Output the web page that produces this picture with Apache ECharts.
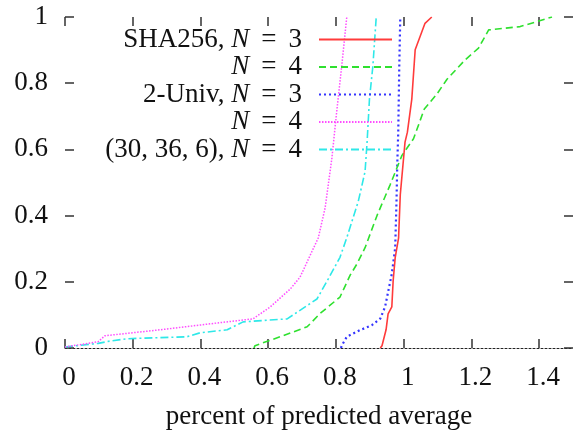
<!DOCTYPE html>
<html>
<head>
<meta charset="utf-8">
<script src="https://cdn.jsdelivr.net/npm/echarts@6/dist/echarts.min.js"></script>
<style>
  html, body { margin: 0; padding: 0; background: #fff; }
  #chart { width: 585px; height: 435px; }
</style>
</head>
<body>
<div id="chart"></div>
<script>
// [x, fraction] points
const sha256N3 = [[0.931, 0], [0.936, 0.007], [0.948, 0.055], [0.954, 0.103], [0.965, 0.124], [0.969, 0.204], [0.975, 0.273], [0.985, 0.333], [0.990, 0.463], [1.004, 0.622], [1.011, 0.652], [1.024, 0.752], [1.034, 0.901], [1.063, 0.981], [1.083, 1.0]];
const sha256N4 = [[0.558, 0], [0.561, 0.007], [0.635, 0.034], [0.715, 0.064], [0.753, 0.104], [0.812, 0.154], [0.842, 0.22], [0.862, 0.254], [0.886, 0.303], [0.922, 0.402], [0.960, 0.493], [0.995, 0.582], [1.029, 0.632], [1.061, 0.722], [1.098, 0.767], [1.128, 0.812], [1.182, 0.871], [1.221, 0.906], [1.251, 0.961], [1.344, 0.971], [1.393, 0.986], [1.438, 1.0]];
const univN3 = [[0.815, 0], [0.817, 0.007], [0.832, 0.034], [0.871, 0.054], [0.906, 0.069], [0.931, 0.089], [0.945, 0.124], [0.955, 0.174], [0.965, 0.224], [0.975, 0.303], [0.979, 0.45], [0.981, 0.552], [0.984, 0.653], [0.987, 0.851], [0.990, 1.0]];
const univN4 = [[0, 0.003], [0.098, 0.019], [0.118, 0.037], [0.281, 0.055], [0.428, 0.073], [0.555, 0.088], [0.606, 0.124], [0.665, 0.178], [0.694, 0.214], [0.748, 0.333], [0.768, 0.423], [0.788, 0.573], [0.801, 0.702], [0.817, 0.851], [0.832, 1.0]];
const code30N4 = [[0, 0.003], [0.098, 0.014], [0.133, 0.021], [0.183, 0.028], [0.360, 0.034], [0.399, 0.046], [0.479, 0.055], [0.526, 0.079], [0.656, 0.088], [0.744, 0.148], [0.777, 0.208], [0.812, 0.274], [0.832, 0.333], [0.866, 0.443], [0.886, 0.533], [0.892, 0.622], [0.899, 0.752], [0.909, 0.851], [0.919, 1.0]];

const xTicks = [0, 0.2, 0.4, 0.6, 0.8, 1, 1.2, 1.4];
const yTicks = [0, 0.2, 0.4, 0.6, 0.8, 1];
const seriesNames = ["SHA256 N3", "SHA256 N4", "2-Univ N3", "2-Univ N4", "(30,36,6) N4"];
const legendLabels = [
  "{t|SHA256, }{i|N}{e|=}{t|3}",
  "{i|N}{e|=}{t|4}",
  "{t|2-Univ, }{i|N}{e|=}{t|3}",
  "{i|N}{e|=}{t|4}",
  "{t|(30, 36, 6), }{i|N}{e|=}{t|4}"
];

const font = "'Liberation Serif', 'DejaVu Serif', serif";
const ink = "#111";

// an axis that only draws short ticks pointing into the plot
function tickAxis(position, min, max, ticks, extra) {
  return Object.assign({
    type: "value",
    position: position,
    min: min,
    max: max,
    axisLine: { show: false, onZero: false },
    axisTick: { show: true, inside: true, length: 9, customValues: ticks, lineStyle: { color: "#333", width: 1.5 } },
    axisLabel: { show: false },
    splitLine: { show: false },
  }, extra);
}

let myChart = echarts.init(document.getElementById("chart"), null, { renderer: "canvas" });

let option = {
  animation: false,
  backgroundColor: "#fff",
  grid: { left: 65, right: 12, top: 17, bottom: 84 },
  legend: {
    orient: "vertical",
    align: "right",
    right: 192,
    top: 26,
    padding: 0,
    itemGap: 0.5,
    itemWidth: 73,
    itemHeight: 14,
    itemStyle: { opacity: 0 },
    data: seriesNames,
    formatter: function (name) {
      return legendLabels[seriesNames.indexOf(name)];
    },
    textStyle: {
      padding: [0, 12, 0, 0],
      rich: {
        t: { fontFamily: font, fontSize: 27, color: ink, lineHeight: 26 },
        i: { fontFamily: font, fontSize: 27, fontStyle: "italic", color: ink, lineHeight: 26 },
        e: { fontFamily: font, fontSize: 27, color: ink, lineHeight: 26, padding: [0, 12, 0, 12] },
      },
    },
  },
  xAxis: [
    tickAxis("bottom", 0, 1.5, xTicks, {
      name: "percent of predicted average",
      nameLocation: "middle",
      nameGap: 55,
      nameTextStyle: { fontFamily: font, fontSize: 27, color: ink },
      axisLine: { show: true, onZero: false, lineStyle: { color: "#222", width: 1, type: [2, 2] } },
      axisLabel: { show: true, customValues: xTicks, margin: 16, padding: [0, 0, 0, 8], fontFamily: font, fontSize: 27, color: ink },
    }),
    tickAxis("top", 0, 1.5, xTicks),
  ],
  yAxis: [
    tickAxis("left", 0, 1, yTicks, {
      interval: 0.2,
      axisLabel: { show: true, customValues: yTicks, margin: 17, padding: [0, 0, 5, 0], fontFamily: font, fontSize: 27, color: ink },
    }),
    tickAxis("right", 0, 1, yTicks, { interval: 0.2 }),
  ],
  series: [
    {
      name: seriesNames[0],
      type: "line",
      symbol: "none",
      data: sha256N3,
      lineStyle: { color: "#ff3b3b", width: 1.6, type: "solid" },
      itemStyle: { color: "#ff3b3b" },
      z: 6,
    },
    {
      name: seriesNames[1],
      type: "line",
      symbol: "none",
      data: sha256N4,
      lineStyle: { color: "#2fe02f", width: 1.6, type: [7, 4] },
      itemStyle: { color: "#2fe02f" },
      z: 5,
    },
    {
      name: seriesNames[2],
      type: "line",
      symbol: "none",
      data: univN3,
      lineStyle: { color: "#3535ff", width: 2.2, type: [2, 3] },
      itemStyle: { color: "#3535ff" },
      z: 4,
    },
    {
      name: seriesNames[3],
      type: "line",
      symbol: "none",
      data: univN4,
      lineStyle: { color: "#ff4dff", width: 1.5, type: [1.5, 1.5] },
      itemStyle: { color: "#ff4dff" },
      z: 3,
    },
    {
      name: seriesNames[4],
      type: "line",
      symbol: "none",
      data: code30N4,
      lineStyle: { color: "#2ee8e8", width: 1.6, type: [8, 3, 2, 3] },
      itemStyle: { color: "#2ee8e8" },
      z: 2,
    },
  ],
};
myChart.setOption(option);
</script>
</body>
</html>
